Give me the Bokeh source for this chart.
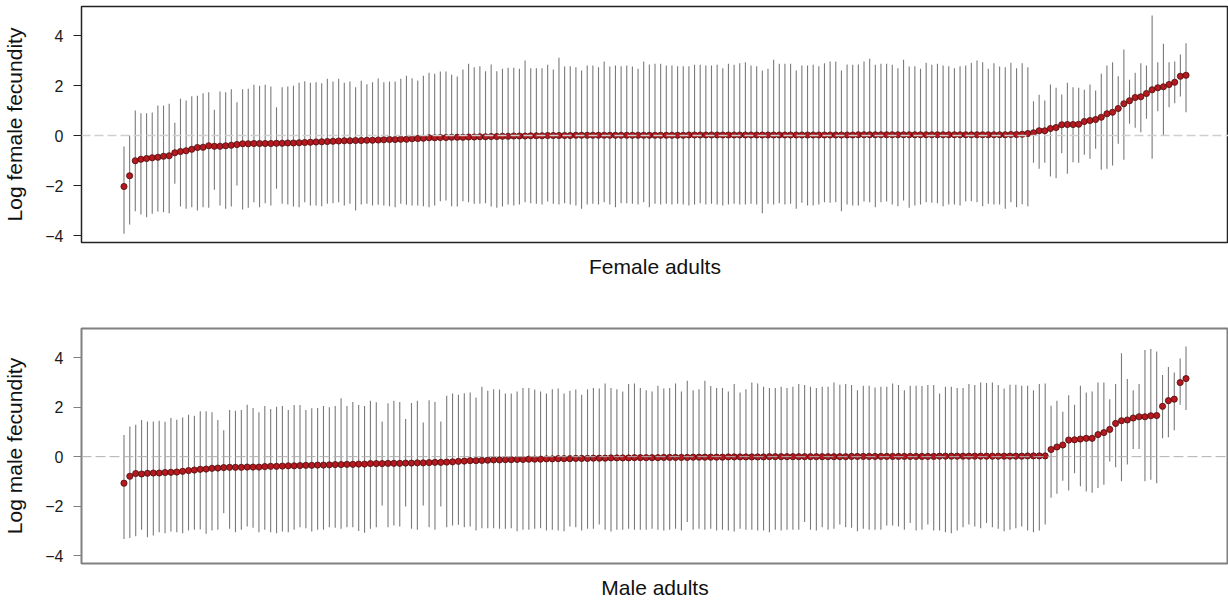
from bokeh.plotting import figure
from bokeh.models import Range1d, FixedTicker, Span, ColumnDataSource
from bokeh.layouts import column
from bokeh.embed import file_html
from bokeh.resources import INLINE

# ---------------- data: estimates with lower / upper interval bounds ----------------
female_est = [
    -2.04, -1.61, -1.01, -0.95, -0.92, -0.89, -0.87, -0.83, -0.81, -0.69,
    -0.64, -0.61, -0.55, -0.48, -0.47, -0.41, -0.43, -0.43, -0.41, -0.39,
    -0.36, -0.33, -0.33, -0.32, -0.32, -0.32, -0.32, -0.31, -0.31, -0.30,
    -0.30, -0.29, -0.28, -0.27, -0.26, -0.25, -0.24, -0.23, -0.22, -0.21,
    -0.21, -0.20, -0.20, -0.19, -0.19, -0.18, -0.17, -0.16, -0.16, -0.15,
    -0.15, -0.13, -0.12, -0.11, -0.09, -0.09, -0.08, -0.08, -0.07, -0.07,
    -0.07, -0.06, -0.06, -0.05, -0.05, -0.04, -0.04, -0.03, -0.03, -0.02,
    -0.02, -0.02, -0.01, -0.01, -0.01, 0.00, 0.00, 0.00, 0.00, 0.00,
    0.01, 0.01, 0.01, 0.01, 0.01, 0.01, 0.01, 0.01, 0.01, 0.01,
    0.01, 0.01, 0.01, 0.01, 0.01, 0.01, 0.01, 0.01, 0.01, 0.01,
    0.02, 0.02, 0.02, 0.02, 0.02, 0.02, 0.02, 0.02, 0.02, 0.02,
    0.02, 0.02, 0.02, 0.02, 0.02, 0.02, 0.02, 0.02, 0.02, 0.02,
    0.02, 0.02, 0.02, 0.02, 0.02, 0.02, 0.02, 0.02, 0.02, 0.02,
    0.03, 0.03, 0.03, 0.03, 0.03, 0.03, 0.03, 0.03, 0.03, 0.03,
    0.03, 0.03, 0.03, 0.03, 0.03, 0.03, 0.03, 0.03, 0.03, 0.03,
    0.03, 0.03, 0.03, 0.03, 0.03, 0.03, 0.03, 0.04, 0.04,
    0.05, 0.08, 0.11, 0.19, 0.19, 0.28, 0.32, 0.43, 0.44, 0.44,
    0.45, 0.56, 0.60, 0.64, 0.73, 0.87, 0.93, 1.08, 1.27, 1.39,
    1.52, 1.55, 1.68, 1.83, 1.91, 1.95, 2.04, 2.13, 2.37, 2.41,
]
female_hi = [
    -0.44, 0.00, 1.00, 0.89, 0.89, 0.92, 1.20, 1.20, 1.27, 0.51,
    1.47, 1.40, 1.57, 1.59, 1.69, 1.73, 1.03, 1.76, 1.73, 1.85,
    1.33, 1.85, 1.87, 2.03, 1.99, 2.03, 1.96, 1.13,
    1.93, 1.96, 1.99, 2.11, 2.17, 2.11, 2.13, 2.09, 2.27, 2.16,
    2.27, 2.11, 2.16, 1.93, 2.19, 2.05, 2.13, 2.28, 2.13, 2.16,
    2.16, 2.27, 2.39, 2.29, 2.20, 2.39, 2.51, 2.47, 2.56, 2.56,
    2.43, 2.36, 2.64, 2.87,
    2.73, 2.77, 2.57, 2.84, 2.57, 2.67, 2.71, 2.71, 2.67, 3.00,
    2.69, 2.69, 2.69, 2.83, 2.64, 3.11, 2.76, 2.77, 2.73, 2.60,
    2.80, 2.80, 2.73, 2.96, 2.76, 2.80, 2.77, 2.80, 2.76, 2.67,
    2.96, 2.84, 2.87, 2.87, 2.80, 2.80, 2.77, 2.77, 2.77, 2.83,
    2.83, 2.80, 2.80, 2.83, 2.69, 2.87, 2.83, 2.89, 2.93, 2.80,
    2.77, 2.60, 2.67, 3.03, 2.87, 2.87, 2.87, 2.60,
    2.80, 2.80, 2.83, 2.77, 2.89, 2.96, 2.96, 2.60, 2.84, 2.83,
    2.84, 2.96, 3.07, 2.83, 2.87, 2.87, 2.83, 2.69, 3.03, 2.76,
    2.77, 2.67, 2.91, 2.83, 2.87, 2.80, 2.77, 2.69, 2.77, 2.80,
    2.91, 3.00, 2.93, 2.67, 2.89, 2.76, 2.73, 2.91, 2.69, 2.89,
    2.73,
    1.37, 1.63, 1.40, 2.04, 1.91, 1.64, 2.11, 1.93, 1.91, 1.83,
    2.04, 1.80, 2.47, 2.80, 2.93, 2.37, 3.44, 2.23, 2.51, 2.89,
    2.80, 4.80, 2.93, 3.67, 2.93, 2.96, 3.24, 3.69,
]
female_lo = [
    -3.93, -3.56, -3.03, -3.16, -3.27, -3.13, -3.04, -3.07, -3.11, -1.93,
    -2.84, -2.93, -2.87, -3.00, -2.87, -2.89, -2.17, -2.80, -2.93, -2.84,
    -2.00, -2.96, -2.89, -2.67, -2.87, -2.71, -2.80, -2.13,
    -2.73, -2.76, -2.84, -2.87, -2.67, -2.80, -2.80, -2.83, -2.73, -2.71,
    -2.67, -2.80, -2.73, -3.00, -2.76, -2.73, -2.80, -2.77, -2.80, -2.83,
    -2.87, -2.73, -2.77, -2.80, -2.80, -2.83, -2.87, -2.80, -2.63, -2.60,
    -2.83, -2.84, -2.63, -2.67,
    -2.73, -2.73, -2.71, -2.84, -2.89, -2.84, -2.76, -2.80, -2.76, -2.67,
    -2.71, -2.73, -2.76, -2.64, -2.73, -2.76, -2.71, -2.76, -2.80, -2.93,
    -2.76, -2.73, -2.76, -2.67, -2.76, -2.87, -2.71, -2.71, -2.73, -2.76,
    -2.67, -2.87, -2.73, -2.76, -2.73, -2.76, -2.73, -2.76, -2.80, -2.76,
    -2.71, -2.76, -2.73, -2.76, -2.80, -2.76, -2.73, -2.76, -2.76, -2.73,
    -2.76, -3.11, -2.73, -2.76, -2.71, -2.76, -2.73, -2.93,
    -2.69, -2.80, -2.80, -2.76, -2.67, -2.69, -2.67, -3.03, -2.76, -2.80,
    -2.80, -2.64, -2.67, -2.87, -2.67, -2.64, -2.76, -2.83, -2.60, -2.89,
    -2.80, -2.76, -2.67, -2.69, -2.71, -2.83, -2.76, -2.76, -2.80, -2.64,
    -2.63, -2.67, -2.83, -2.73, -2.76, -2.76, -2.93, -2.67, -2.87, -2.75,
    -2.83,
    -1.09, -1.33, -1.09, -1.64, -1.71, -0.71, -1.53, -1.07, -1.09, -0.77,
    -0.93, -0.53, -1.37, -1.33, -1.20, -0.33, -0.97, 0.47, 0.31, 0.13,
    0.67, -0.93, 0.97, 0.00, 1.13, 1.29, 1.56, 0.93,
]

male_est = [
    -1.07, -0.79, -0.68, -0.70, -0.67, -0.66, -0.66, -0.64, -0.63, -0.62,
    -0.59, -0.56, -0.54, -0.51, -0.50, -0.47, -0.46, -0.44, -0.43, -0.43,
    -0.43, -0.42, -0.42, -0.42, -0.40,
    -0.39, -0.39, -0.38, -0.37, -0.37, -0.36, -0.35, -0.35, -0.34, -0.34,
    -0.33, -0.32, -0.32, -0.31, -0.31, -0.30, -0.30, -0.28, -0.28, -0.28,
    -0.27, -0.27, -0.27, -0.26, -0.26, -0.25, -0.25, -0.24, -0.23, -0.23,
    -0.22, -0.21, -0.19, -0.18, -0.16,
    -0.16, -0.15, -0.14, -0.13, -0.13, -0.12, -0.12, -0.11, -0.11, -0.10,
    -0.10, -0.10, -0.09, -0.09, -0.08, -0.08, -0.08, -0.07, -0.07, -0.07,
    -0.06, -0.06, -0.06, -0.05, -0.05, -0.05, -0.05, -0.04, -0.04, -0.04,
    -0.04, -0.04, -0.03, -0.03, -0.03, -0.03, -0.03, -0.02, -0.02, -0.02,
    -0.02, -0.02, -0.02, -0.01, -0.01, -0.01, -0.01, -0.01, -0.01, -0.01,
    0.00, 0.00, 0.00, 0.00, 0.00, 0.00, 0.00, 0.00, 0.00,
    0.00, 0.00, 0.00, 0.00, 0.00, 0.01, 0.01, 0.01, 0.01, 0.01,
    0.01, 0.01, 0.01, 0.01, 0.01, 0.01, 0.01, 0.01, 0.01, 0.01,
    0.02, 0.02, 0.02, 0.02, 0.02, 0.02, 0.02, 0.02, 0.02, 0.02,
    0.02, 0.02, 0.02, 0.02, 0.02, 0.03, 0.03, 0.03, 0.03,
    0.29, 0.39, 0.47, 0.67, 0.68, 0.71, 0.74, 0.74, 0.89, 0.97,
    1.10, 1.34, 1.45, 1.48, 1.56, 1.61, 1.61, 1.65, 1.66, 2.03,
    2.26, 2.32, 2.99, 3.15,
]
male_hi = [
    0.87, 1.22, 1.29, 1.48, 1.42, 1.42, 1.45, 1.41, 1.56, 1.49,
    1.58, 1.69, 1.65, 1.83, 1.83, 1.79, 1.48, 1.07, 1.88, 1.85,
    1.88, 2.09, 1.96, 1.79, 2.04,
    1.92, 2.01, 2.04, 1.88, 2.08, 2.08, 1.88, 1.95, 1.96, 2.04,
    1.99, 2.04, 2.36, 2.04, 2.21, 2.08, 2.04, 2.26, 2.19, 1.42,
    2.15, 2.26, 2.21, 1.52, 2.16, 2.26, 1.38, 2.28, 2.21, 1.42,
    2.46, 2.55, 2.50, 2.56, 2.59,
    2.39, 2.82, 2.66, 2.72, 2.71, 2.55, 2.55, 2.63, 2.77, 2.77,
    2.71, 2.63, 2.55, 2.72, 2.75, 2.55, 2.66, 2.71, 2.50, 2.72,
    2.77, 2.75, 2.95, 2.77, 2.72, 2.63, 2.93, 2.95, 2.77, 2.68,
    2.63, 2.86, 2.75, 2.77, 2.95, 2.63, 3.06, 2.68, 2.72, 3.06,
    2.85, 2.77, 2.77, 2.63, 2.93, 2.59, 2.72, 2.99, 2.95, 2.82,
    2.77, 2.77, 2.82, 2.77, 2.82, 2.93, 2.89, 2.82, 2.77,
    2.82, 2.82, 2.99, 2.90, 2.93, 2.89, 2.68, 2.86, 2.86, 2.79,
    2.82, 2.82, 2.95, 2.89, 2.68, 2.86, 2.86, 2.85, 2.89, 2.89,
    2.55, 2.82, 2.82, 2.77, 2.77, 2.93, 2.89, 2.99, 2.97, 2.99,
    2.89, 2.75, 2.90, 2.90, 2.86, 2.86, 2.68, 2.93, 2.95,
    2.05, 2.26, 1.81, 2.48, 2.09, 2.86, 2.59, 2.63, 2.99, 2.99,
    2.32, 2.93, 4.17, 3.13, 2.68, 2.93, 4.30, 4.34, 4.24, 3.29,
    3.62, 3.40, 3.96, 4.44,
]
male_lo = [
    -3.32, -3.28, -3.21, -2.95, -3.25, -3.18, -3.05, -3.09, -3.02, -3.05,
    -3.09, -2.98, -2.95, -2.94, -3.11, -2.98, -2.95, -2.28, -2.91, -3.05,
    -2.95, -2.82, -2.87, -3.05, -2.95,
    -3.05, -3.09, -3.02, -3.05, -2.95, -2.85, -2.89, -3.02, -2.95, -2.95,
    -2.85, -2.87, -2.91, -2.85, -2.85, -3.00, -3.07, -2.91, -2.85, -1.97,
    -2.85, -2.78, -2.82, -2.01, -2.91, -2.95, -1.97, -2.85, -2.95, -2.01,
    -2.85, -2.78, -2.75, -2.85, -2.82,
    -2.98, -2.89, -2.89, -2.89, -2.91, -2.91, -2.89, -3.01, -2.95, -2.95,
    -2.91, -2.89, -2.98, -2.95, -2.98, -3.01, -2.82, -2.85, -2.98, -2.91,
    -2.91, -2.74, -2.95, -3.02, -2.95, -2.95, -2.91, -2.95, -2.95, -2.95,
    -2.91, -2.95, -2.98, -2.95, -2.91, -2.98, -2.64, -2.95, -2.91, -2.95,
    -2.91, -2.98, -2.95, -2.98, -3.02, -2.91, -2.95, -2.95, -2.98, -2.98,
    -3.05, -2.95, -2.98, -2.95, -2.95, -2.95, -2.64, -2.95, -2.98,
    -2.85, -2.95, -2.91, -2.74, -2.85, -2.87, -3.01, -2.91, -2.95, -2.95,
    -2.95, -2.78, -2.78, -2.82, -2.95, -2.68, -2.98, -2.95, -2.74, -2.98,
    -2.98, -3.05, -3.09, -2.98, -2.85, -2.74, -2.82, -2.89, -2.68, -2.85,
    -2.91, -3.01, -2.95, -2.89, -2.82, -2.98, -3.05, -2.98, -2.74,
    -1.66, -1.50, -0.97, -1.37, -0.67, -1.19, -1.41, -1.46, -1.26, -1.13,
    -0.20, -0.43, -0.99, -0.32, 0.31, 0.31, -0.99, -0.93, -1.07, 0.74,
    0.78, 1.07, 2.09, 1.88,
]

y_ticks = [-4, -2, 0, 2, 4]

FONT = "Liberation Sans"


def caterpillar(est, lo, hi, ylabel, xlabel, height, top, bottom, y_lo, y_hi,
                frame_color, frame_width, zero_color, zero_width, zero_dash):
    n = len(est)
    xs = list(range(1, n + 1))
    pad = 0.04 * (n - 1)
    p = figure(width=1228, height=height, output_backend="svg",
               toolbar_location=None,
               x_range=Range1d(1 - pad, n + pad),
               y_range=Range1d(y_lo, y_hi),
               min_border_left=80, min_border_right=0,
               min_border_top=top, min_border_bottom=bottom,
               background_fill_color="white", border_fill_color="white")
    p.outline_line_color = frame_color
    p.outline_line_width = frame_width
    p.xgrid.visible = False
    p.ygrid.visible = False

    # y axis: ticks outside the frame, R-like
    ya = p.yaxis[0]
    ya.ticker = FixedTicker(ticks=y_ticks)
    ya.axis_line_color = None
    ya.major_tick_in = 0
    ya.major_tick_out = 8
    ya.major_tick_line_color = frame_color
    ya.minor_tick_line_color = None
    ya.major_label_standoff = 10
    ya.major_label_text_font = FONT
    ya.major_label_text_font_size = "16px"
    ya.major_label_text_color = "#1a1a1a"
    ya.axis_label = ylabel
    ya.axis_label_text_font = FONT
    ya.axis_label_text_font_size = "21px"
    ya.axis_label_text_font_style = "normal"
    ya.axis_label_text_color = "#111111"
    ya.axis_label_standoff = 16

    # x axis carries only its title
    xa = p.xaxis[0]
    xa.ticker = FixedTicker(ticks=[])
    xa.axis_line_color = None
    xa.major_tick_line_color = None
    xa.minor_tick_line_color = None
    xa.major_tick_out = 0
    xa.major_label_standoff = 0
    xa.axis_label = xlabel
    xa.axis_label_text_font = FONT
    xa.axis_label_text_font_size = "21px"
    xa.axis_label_text_font_style = "normal"
    xa.axis_label_text_color = "#111111"
    xa.axis_label_standoff = 12

    p.add_layout(Span(location=0, dimension="width", line_color=zero_color,
                      line_width=zero_width, line_dash=zero_dash))

    src = ColumnDataSource(dict(x=xs, est=est, lo=lo, hi=hi))
    p.segment(x0="x", y0="lo", x1="x", y1="hi", source=src,
              line_color="#7a7a7a", line_width=1.1)
    p.scatter(x="x", y="est", source=src, size=6.2,
              fill_color="#b3191f", line_color="#4a0d0d", line_width=0.8)
    return p


top_panel = caterpillar(female_est, female_lo, female_hi,
                        "Log female fecundity", "Female adults",
                        300, 6, 58, -4.28, 5.16,
                        "#222222", 1.5, "#cfcfcf", 1.6, "9 4")
bottom_panel = caterpillar(male_est, male_lo, male_hi,
                           "Log male fecundity", "Male adults",
                           301, 28, 38, -4.31, 5.17,
                           "#808080", 2, "#b0b0b0", 1, "10 4")

layout = column(top_panel, bottom_panel, spacing=0)
open("out.html", "w").write(file_html(layout, INLINE))
